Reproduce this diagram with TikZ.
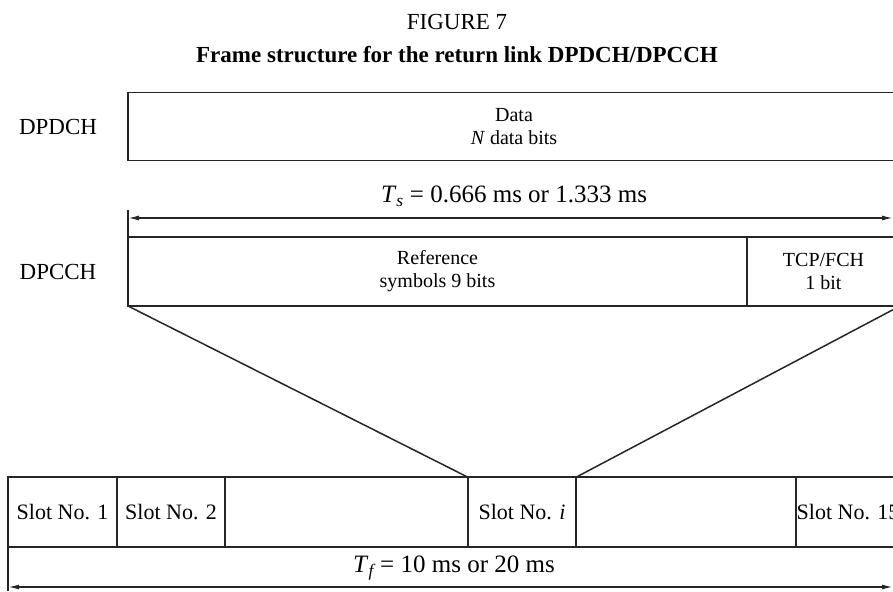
\documentclass[tikz,border=0pt]{standalone}
\usepackage{amsmath}
\usepackage{fontspec}
\setmainfont{Liberation Serif}
\usetikzlibrary{arrows.meta}

\begin{document}
\begin{tikzpicture}[x=1pt, y=-1pt,
  box/.style={draw=black!85, line width=1.6pt, inner sep=0pt, outer sep=0pt, align=center, font=\fontsize{20}{23}\selectfont},
  lab/.style={font=\fontsize{23}{27}\selectfont},
  big/.style={font=\fontsize{25}{29}\selectfont},
  line/.style={draw=black!85, line width=1.5pt},
  dim/.style={line, {Latex[length=11pt,width=5pt]}-{Latex[length=11pt,width=5pt]}},
  ]

\useasboundingbox (0,0) rectangle (893,591);

\node[lab] (fig) at (457,22) {FIGURE 7};
\node[lab, font=\fontsize{23}{27}\selectfont\bfseries] (title) at (457,55) {Frame structure for the return link DPDCH/DPCCH};

% DPDCH
\node[box, minimum width=772, minimum height=68] (dpdch) at (514,126.5) {Data\\\textit{N} data bits};
\node[lab] (dpdchlab) at (58,126.5) {DPDCH};

% slot duration
\coordinate (tstop) at (128,210);
\coordinate (tsL) at (128,218);
\coordinate (tsR) at (893,218);
\draw[dim] (tsL) -- (tsR);
\node[big] (tslab) at (514,196) {\textit{T}$_{\textit{s}}$ = 0.666 ms or 1.333 ms};

% DPCCH
\node[box, minimum width=619, minimum height=69] (ref) at (437.5,271.5) {Reference\\symbols 9 bits};
\node[box, minimum width=153, minimum height=69] (tcp) at (823.5,271.5) {TCP/FCH\\1 bit};
\node[lab] (dpcchlab) at (58,271.5) {DPCCH};
\draw[line] (ref.north west) -- (tstop);

% slots of the frame
\foreach \a/\b/\t [count=\i] in {8/117/Slot No. 1, 117/225/Slot No. 2, 225/468/, 468/576/Slot No. \textit{i}, 576/796/, 796/900/Slot No. 15}
  \node[box, font=\fontsize{22}{26}\selectfont, minimum width={(\b-\a)*1pt}, minimum height=69.5] (slot\i) at ({(\a+\b)/2},512) {\t};

% frame duration
\coordinate (tfbot) at (8,591);
\coordinate (tfL) at (8,587);
\coordinate (tfR) at (893,587);
\draw[line] (slot1.south west) -- (tfbot);
\draw[dim] (tfL) -- (tfR);
\node[big] (tflab) at (454,568) {\textit{T}$_{\textit{f}}$ = 10 ms or 20 ms};

% expansion of one slot
\draw[line] (ref.south west) -- (slot4.north west);
\draw[line] (tcp.south east) -- (slot4.north east);

\end{tikzpicture}
\end{document}
